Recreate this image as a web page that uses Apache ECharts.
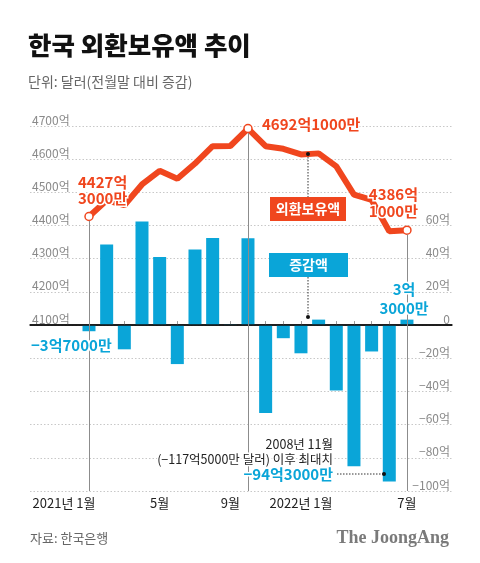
<!DOCTYPE html>
<html>
<head>
<meta charset="utf-8">
<script src="https://cdn.jsdelivr.net/npm/echarts@6/dist/echarts.min.js"></script>
<style>
html,body{margin:0;padding:0;background:#fff;}
#c{width:480px;height:563px;}
</style>
</head>
<body>
<div id="c"></div>
<script>
// ---- data ----
const months = ['2021-01','2021-02','2021-03','2021-04','2021-05','2021-06','2021-07','2021-08','2021-09','2021-10','2021-11','2021-12','2022-01','2022-02','2022-03','2022-04','2022-05','2022-06','2022-07'];
// 외환보유액 (억 달러)
const reserves = [4427.3, 4475.9, 4461.3, 4523.7, 4564.8, 4541.3, 4586.8, 4639.3, 4639.7, 4692.1, 4639.1, 4631.2, 4614.2, 4617.5, 4578.1, 4493.0, 4477.1, 4382.8, 4386.1];
// 전월말 대비 증감 (억 달러)
const changes = [-3.7, 48.6, -14.6, 62.4, 41.1, -23.5, 45.5, 52.5, 0.4, 52.4, -53.0, -7.9, -17.0, 3.3, -39.4, -85.1, -15.9, -94.3, 3.3];
const xTickLabels = {0: '2021년 1월', 4: '5월', 8: '9월', 12: '2022년 1월', 18: '7월'};
const markedPoints = [0, 9, 18];

const KR = '"Noto Sans CJK KR", "Noto Sans", sans-serif';
const ORANGE = '#f0461e';
const BLUE = '#0aa5d8';

const chart = echarts.init(document.getElementById('c'), null, {renderer: 'canvas'});

function txt(text, x, y, o) {
  return Object.assign({
    type: 'text', z: 100,
    style: Object.assign({
      text: text, x: x, y: y, fontFamily: KR, fontSize: 15, fontWeight: 'bold',
      fill: '#222', align: 'left', verticalAlign: 'middle'
    }, o || {})
  });
}

const option = {
  animation: false,
  backgroundColor: '#fff',
  grid: {left: 30, right: 28, top: 126, bottom: 72, containLabel: false},
  xAxis: {
    type: 'value',
    min: -3.34, max: 20.55,
    axisLine: {show: true, lineStyle: {color: '#111', width: 1.5}},
    axisTick: {show: true, inside: true, length: 4, lineStyle: {color: '#999'},
      customValues: months.map((m, i) => i)},
    axisLabel: {
      show: true, color: '#222', fontSize: 13, fontFamily: KR, margin: 6,
      customValues: Object.keys(xTickLabels).map(Number),
      formatter: function (v) {
        const t = xTickLabels[v] || '';
        if (v === 0) return '{a|' + t + '}';
        return t;
      },
      rich: {a: {fontSize: 13, color: '#222', fontFamily: KR, padding: [0, 50, 0, 0]}}
    },
    splitLine: {show: false}
  },
  yAxis: [
    {
      type: 'value', min: 3600, max: 4700, interval: 100, position: 'left',
      axisLine: {show: false}, axisTick: {show: false},
      axisLabel: {inside: true, margin: 2, verticalAlign: 'bottom', color: '#8a8a8a', fontSize: 12, fontFamily: KR,
        formatter: v => v >= 4100 ? v + '억' : ''},
      splitLine: {show: true, lineStyle: {type: [1.5, 2], color: '#c8c8c8', width: 1}}
    },
    {
      type: 'value', min: -100, max: 120, interval: 20, position: 'right',
      axisLine: {show: false}, axisTick: {show: false},
      axisLabel: {inside: true, margin: 2, verticalAlign: 'bottom', color: '#8a8a8a', fontSize: 12, fontFamily: KR,
        formatter: v => v > 60 ? '' : (v === 0 ? '0' : (v < 0 ? '\u2212' + (-v) : v) + '억')},
      splitLine: {show: false}
    }
  ],
  series: [
    {
      type: 'bar', yAxisIndex: 1, z: 2,
      data: changes.map((v, i) => [i, v]),
      barWidth: 13,
      itemStyle: {color: BLUE},
      markLine: {
        silent: true, symbol: 'none', label: {show: false},
        lineStyle: {color: '#111', width: 1.5, type: 'solid'},
        data: [{yAxis: 0}]
      }
    },
    {
      type: 'line', yAxisIndex: 0, z: 3,
      data: reserves.map((v, i) => ({value: [i, v], symbol: markedPoints.includes(i) ? 'circle' : 'none'})),
      symbol: 'circle', symbolSize: 8, showAllSymbol: true,
      itemStyle: {color: '#fff', borderColor: ORANGE, borderWidth: 1.5},
      lineStyle: {color: ORANGE, width: 6},
      markLine: {
        silent: true, symbol: 'none', label: {show: false},
        lineStyle: {color: '#8c8c8c', width: 1, type: 'solid'},
        data: markedPoints.map(i => [{coord: [i, reserves[i] - 13]}, {coord: [i, 3600]}])
      }
    }
  ],
  graphic: [
    txt('한국 외환보유액 추이', 28, 45, {fontSize: 25.5, fontWeight: 900, fill: '#111'}),
    txt('단위: 달러(전월말 대비 증감)', 28, 82, {fontSize: 14, fontWeight: 'normal', fill: '#666'}),

    txt('4427억\n3000만', 78, 190, {fill: ORANGE, lineHeight: 16, stroke: '#fff', lineWidth: 3}),
    txt('4692억1000만', 262, 124, {fill: ORANGE, stroke: '#fff', lineWidth: 3}),
    txt('4386억\n1000만', 418, 203, {fill: ORANGE, align: 'right', lineHeight: 17, stroke: '#fff', lineWidth: 3}),

    {type: 'rect', z: 99, shape: {x: 270, y: 197, width: 76, height: 24}, style: {fill: ORANGE}},
    txt('외환보유액', 308, 209, {fill: '#fff', align: 'center', fontSize: 14}),
    {type: 'rect', z: 99, shape: {x: 269, y: 253, width: 79, height: 24}, style: {fill: BLUE}},
    txt('증감액', 308.5, 265, {fill: '#fff', align: 'center', fontSize: 14}),

    {type: 'line', z: 98, shape: {x1: 308, y1: 154, x2: 308, y2: 197}, style: {stroke: '#333', lineWidth: 1, lineDash: [1.5, 1.5]}},
    {type: 'circle', z: 101, shape: {cx: 308, cy: 154, r: 2}, style: {fill: '#111'}},
    {type: 'line', z: 98, shape: {x1: 308, y1: 277, x2: 308, y2: 317}, style: {stroke: '#333', lineWidth: 1, lineDash: [1.5, 1.5]}},
    {type: 'circle', z: 101, shape: {cx: 308, cy: 317, r: 2}, style: {fill: '#111'}},

    txt('\u22123억7000만', 31, 345, {fill: BLUE, stroke: '#fff', lineWidth: 3}),
    txt('3억\n3000만', 404, 299, {fill: BLUE, align: 'center', lineHeight: 19, stroke: '#fff', lineWidth: 3}),

    txt('2008년 11월', 333, 444, {fill: '#222', align: 'right', fontSize: 12.5, fontWeight: 'normal', stroke: '#fff', lineWidth: 3}),
    txt('(\u2212117억5000만 달러) 이후 최대치', 333, 459, {fill: '#222', align: 'right', fontSize: 12.5, fontWeight: 'normal', stroke: '#fff', lineWidth: 3}),
    txt('\u221294억3000만', 333, 474, {fill: BLUE, align: 'right', stroke: '#fff', lineWidth: 3}),
    {type: 'line', z: 98, shape: {x1: 337, y1: 474, x2: 384, y2: 474}, style: {stroke: '#333', lineWidth: 1, lineDash: [1.5, 1.5]}},
    {type: 'circle', z: 101, shape: {cx: 384, cy: 474, r: 2}, style: {fill: '#111'}},

    txt('자료: 한국은행', 30, 538, {fontSize: 13, fontWeight: 'normal', fill: '#666'}),
    txt('The JoongAng', 449, 538, {fontSize: 18, fontWeight: 'bold', fill: '#7a7a7a', align: 'right', fontFamily: '"Liberation Serif", "DejaVu Serif", serif'})
  ]
};
chart.setOption(option);
</script>
</body>
</html>
